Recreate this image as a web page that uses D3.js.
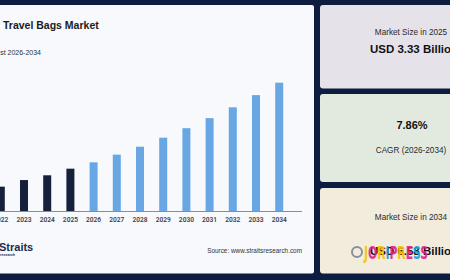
<!DOCTYPE html>
<html>
<head>
<meta charset="utf-8">
<script src="https://cdn.jsdelivr.net/npm/d3@7"></script>
<style>
  body { margin: 0; background: #0c1d40; }
  svg { display: block; font-family: 'Liberation Sans', Arial, sans-serif; }
</style>
</head>
<body>
<svg id="chart"></svg>
<script>
// chart data
const years = ['2022', '2023', '2024', '2025', '2026', '2027', '2028', '2029', '2030', '2031', '2032', '2033', '2034'];
const marketSize = [2.65, 2.90, 3.08, 3.33, 3.57, 3.86, 4.16, 4.50, 4.86, 5.24, 5.65, 6.11, 6.58];
const lastHistoric = '2025';

// summary cards
const cardLabels = ['Market Size in 2025', 'CAGR (2026-2034)', 'Market Size in 2034'];
const cardValues = ['USD 3.33 Billion', '7.86%', 'USD 6.58 Billion'];

const W = 450, H = 280;

const svg = d3.select('#chart')
.attr('width', W)
.attr('height', H);

// navy frame
svg.append('rect')
.attr('width', W).attr('height', H)
.attr('fill', '#0c1d40');

// main white panel
svg.append('rect')
.attr('x', -10).attr('y', 5)
.attr('width', 324).attr('height', 268.5)
.attr('rx', 2)
.attr('fill', '#f7f9fd');

svg.append('text')
.attr('x', 3).attr('y', 29)
.style('font-size', '10.5px')
.style('font-weight', 'bold')
.style('fill', '#1b1b1b')
.text('Travel Bags Market');

svg.append('text')
.attr('x', 41).attr('y', 54.5)
.attr('text-anchor', 'end')
.style('font-size', '7px')
.style('fill', '#333')
.text('Forecast 2026-2034');

const x = d3.scaleBand()
.domain(years)
.range([-10.8, 290.8])
.paddingInner(0.655)
.paddingOuter(0.3275);

const y = d3.scaleLinear()
.domain([1.73, 6.58])
.range([211, 82.7]);

const xAxis = svg.append('g')
.attr('transform', 'translate(0, 211)')
.call(d3.axisBottom(x).tickSize(0).tickSizeOuter(0).tickPadding(6));

xAxis.select('.domain')
.attr('d', 'M-12,0.5H302')
.attr('stroke', '#8a8d94')
.attr('stroke-width', 1);

xAxis.selectAll('text')
.style('font-family', 'Roboto, Arial, sans-serif')
.style('font-size', '6.6px')
.style('font-weight', '600')
.style('fill', '#3d3f45');

svg.selectAll('.bar')
.data(years)
.enter()
.append('rect')
.attr('class', 'bar')
.attr('x', d => x(d))
.attr('y', (d, i) => y(marketSize[i]))
.attr('width', x.bandwidth())
.attr('height', (d, i) => y.range()[0] - y(marketSize[i]))
.attr('fill', d => d <= lastHistoric ? '#17203b' : '#68a7e4');

// footer
svg.append('text')
.attr('x', -1).attr('y', 251)
.style('font-size', '11px')
.style('font-weight', 'bold')
.style('fill', '#1c2b4f')
.text('Straits');

svg.append('text')
.attr('x', 0).attr('y', 255.5)
.style('font-size', '3.6px')
.style('font-weight', 'bold')
.style('fill', '#1c2b4f')
.text('research');

svg.append('text')
.attr('x', 302).attr('y', 253)
.attr('text-anchor', 'end')
.style('font-size', '6.4px')
.style('fill', '#333')
.text('Source: www.straitsresearch.com');

// right side cards
const cards = [
  {y: 5, h: 83.5, fill: '#e5e2ea'},
  {y: 94, h: 88, fill: '#e2eadf'},
  {y: 188, h: 85.5, fill: '#f2ecdc'}
];
const cx = 411;

cards.forEach(c => {
  svg.append('rect')
  .attr('x', 320).attr('y', c.y)
  .attr('width', 150).attr('height', c.h)
  .attr('rx', 3)
  .attr('fill', c.fill);
});

// card 1
svg.append('text').attr('x', cx).attr('y', 35)
.attr('text-anchor', 'middle')
.style('font-size', '8.2px').style('fill', '#2a2a2a')
.text(cardLabels[0]);
svg.append('text').attr('x', cx + 3).attr('y', 52.5)
.attr('text-anchor', 'middle')
.style('font-size', '11.5px').style('font-weight', 'bold').style('fill', '#111')
.text(cardValues[0]);

// card 2
svg.append('text').attr('x', cx + 1).attr('y', 129)
.attr('text-anchor', 'middle')
.style('font-size', '11px').style('font-weight', 'bold').style('fill', '#111')
.text(cardValues[1]);
svg.append('text').attr('x', cx).attr('y', 153)
.attr('text-anchor', 'middle')
.style('font-size', '8.2px').style('fill', '#2a2a2a')
.text(cardLabels[1]);

// card 3
svg.append('text').attr('x', cx).attr('y', 220)
.attr('text-anchor', 'middle')
.style('font-size', '8.2px').style('fill', '#2a2a2a')
.text(cardLabels[2]);
svg.append('text').attr('x', cx + 3).attr('y', 255)
.attr('text-anchor', 'middle')
.style('font-size', '11.5px').style('font-weight', 'bold').style('fill', '#111')
.text(cardValues[2]);

// watermark over card 3
const wm = svg.append('g').attr('transform', 'translate(352, 251)');
wm.append('circle')
.attr('cx', 5).attr('cy', 1).attr('r', 5)
.attr('fill', 'none').attr('stroke', '#8a8f99').attr('stroke-width', 2);
const wmColors = ['#f5c400', '#e0218a', '#f5c400', '#1aa3e0', '#e0218a', '#f5c400', '#e0218a', '#1aa3e0', '#e0218a'];
const wmText = wm.append('text')
.attr('x', 12).attr('y', 7.5)
.style('font-size', '18px')
.style('font-weight', 'bold')
.style('font-family', "'DejaVu Sans Condensed', 'Liberation Sans Narrow', sans-serif")
.attr('textLength', 64)
.attr('lengthAdjust', 'spacingAndGlyphs');
'JORIPRESS'.split('').forEach((ch, i) => {
  wmText.append('tspan').style('fill', wmColors[i]).style('opacity', 0.9).text(ch);
});
</script>
</body>
</html>
